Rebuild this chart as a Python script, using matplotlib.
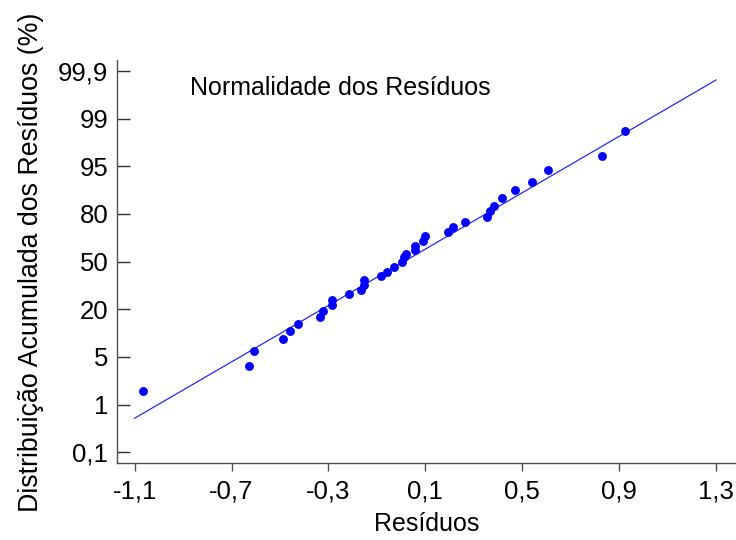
import matplotlib
matplotlib.use("Agg")
import matplotlib.pyplot as plt
import numpy as np

plt.rcParams['font.family'] = ['Liberation Sans', 'DejaVu Sans']

# Residuals (x) and expected normal values (y, z-score units)
residuals = [-1.067, -0.627, -0.608, -0.486, -0.457, -0.426, -0.335, -0.322,
             -0.285, -0.285, -0.215, -0.165, -0.153, -0.152, -0.084, -0.058,
             -0.029, 0.002, 0.012, 0.019, 0.056, 0.058, 0.091, 0.098,
             0.195, 0.215, 0.264, 0.353, 0.367, 0.383, 0.417, 0.470,
             0.541, 0.607, 0.830, 0.925]
expected_z = [-2.17, -1.745, -1.498, -1.297, -1.163, -1.046, -0.923, -0.822,
              -0.727, -0.638, -0.547, -0.474, -0.385, -0.306, -0.234, -0.168,
              -0.086, -0.013, 0.079, 0.121, 0.196, 0.268, 0.352, 0.423,
              0.498, 0.579, 0.658, 0.755, 0.851, 0.940, 1.069, 1.195,
              1.340, 1.533, 1.770, 2.198]

# Reference normal line parameters
line_mean = 0.011
line_sd = 0.4228
line_x = [-1.1, 1.3]

xticks = [-1.1, -0.7, -0.3, 0.1, 0.5, 0.9, 1.3]
xtick_labels = ['-1,1', '-0,7', '-0,3', '0,1', '0,5', '0,9', '1,3']
ytick_pos = [-3.2, -2.4, -1.6, -0.8, 0.0, 0.8, 1.6, 2.4, 3.2]
ytick_labels = ['0,1', '1', '5', '20', '50', '80', '95', '99', '99,9']

W, H = 736, 540
fig = plt.figure(figsize=(W/100, H/100), dpi=100)
ax = fig.add_axes([117.3/W, 1 - 463.3/H, 1 - 117.3/W, (463.3 - 60)/H])

lx = np.array(line_x)
ly = (lx - line_mean) / line_sd
ax.plot(lx, ly, color='#0000ff', lw=0.9, alpha=0.85, zorder=2)
ax.plot(residuals, expected_z, 'o', color='#0000ff', markersize=6.4,
        markeredgewidth=0, zorder=3)

ax.set_xlim(-1.1 - 17.4/243, 1.3 + 20/243)
ax.set_ylim(-3.384, 3.384)

ax.set_xticks(xticks)
ax.set_xticklabels(xtick_labels)
ax.set_yticks(ytick_pos)
ax.set_yticklabels(ytick_labels)

for s in ['top', 'right']:
    ax.spines[s].set_visible(False)
for s in ['left', 'bottom']:
    ax.spines[s].set_color('#505050')
    ax.spines[s].set_linewidth(1.0)

ax.tick_params(axis='y', direction='in', length=9.4, width=1, color='#303030',
               labelsize=18.5, pad=6.5, labelcolor='black')
ax.tick_params(axis='x', direction='out', length=6, width=1, color='#505050',
               labelsize=18.5, pad=6, labelcolor='black')

fig.text(427/W, 1 - 531/H, 'Resíduos', fontsize=18, ha='center',
         va='baseline')
fig.text(31/W, 1 - 262.5/H, 'Distribuição Acumulada dos Resíduos (%)',
         fontsize=19.3, rotation=90, ha='center', va='center')

fig.text(190/W, 1 - 95/H, 'Normalidade dos Resíduos', fontsize=18,
         ha='left', va='baseline')

fig.savefig('out.png', dpi=100)
